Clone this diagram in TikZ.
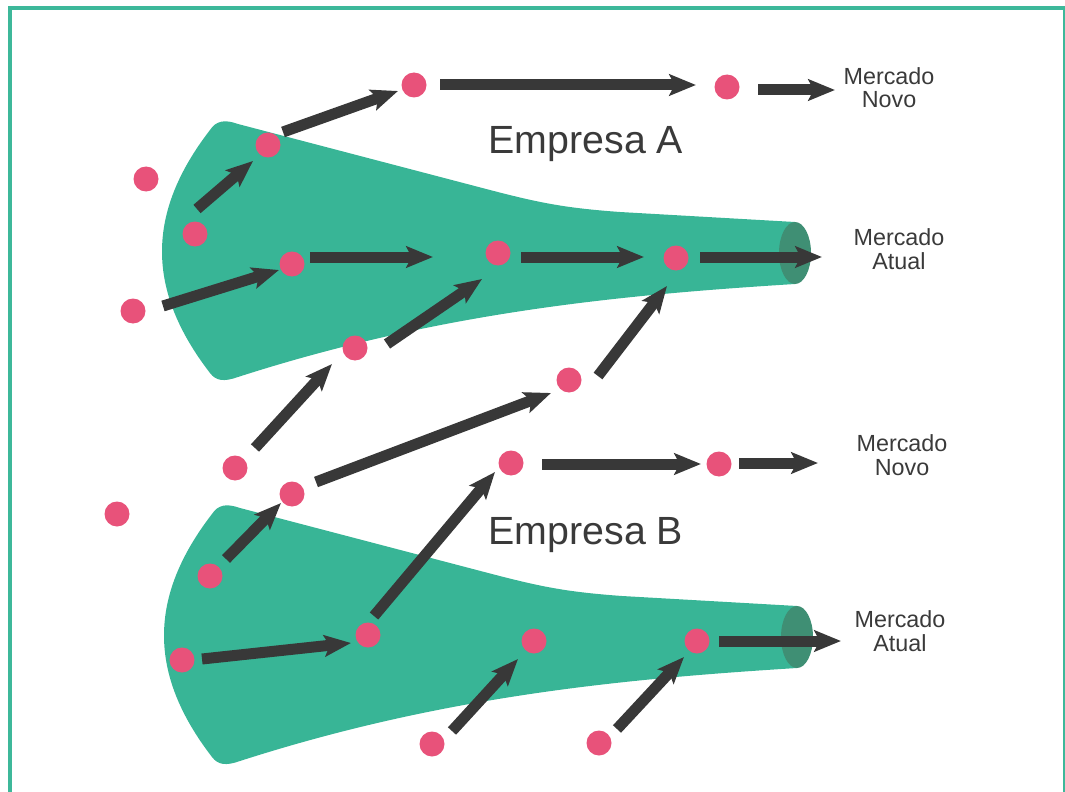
\documentclass[tikz,border=0pt]{standalone}
\usepackage{fontspec}
\setmainfont{Liberation Sans}
\usetikzlibrary{arrows.meta}

\definecolor{funnel}{RGB}{56,181,150}
\definecolor{funnelend}{RGB}{63,143,116}
\definecolor{dotpink}{RGB}{232,82,122}
\definecolor{ink}{RGB}{56,56,56}
\definecolor{textgray}{RGB}{58,58,58}
\definecolor{framecol}{RGB}{61,184,154}

\begin{document}
\begin{tikzpicture}[x=0.75pt,y=-0.75pt,
  dot/.style={circle,fill=dotpink,inner sep=0pt,minimum size=18.75pt},
  flow/.style={draw=ink,line width=8.25pt,-{Stealth[length=20pt,width=16pt,inset=4pt]}},
  market/.style={text=textgray,align=center,font=\fontsize{17.5}{17.5}\selectfont},
  company/.style={text=textgray,anchor=base,font=\fontsize{29.5}{34}\selectfont},
  funnelbody/.style={fill=funnel},
  mouth/.style={fill=funnelend},
  framebox/.style={draw=framecol,line width=3pt}]

\useasboundingbox (0,0) rectangle (1065,792);

% outer frame (its lower edge lies below the page)
\draw[framebox] (9.5,8) rectangle (1064.5,800);

% the two funnels, identical shape
\foreach \dx/\dy in {0/0,2/384}{
  \begin{scope}[shift={(\dx,\dy)}]
    \fill[funnelbody] (795,222) -- (795,284)
      .. controls (620,295) and (440,312) .. (238,377)
      .. controls (224,382) and (216,381) .. (210,373)
      .. controls (146,290) and (146,213) .. (210,130)
      .. controls (216,121) and (224,119) .. (238,124)
      -- (490,190) .. controls (540,203) and (565,208) .. (620,212) -- cycle;
    \fill[mouth] (795,253) ellipse [x radius=16, y radius=31];
  \end{scope}
}

% titles
\node[company] (empA) at (586,154) {Empresa A};
\node[company] (empB) at (586,544) {Empresa B};

% market labels
\node[market] (novoA)  at (889,87.5) {Mercado\\Novo};
\node[market] (atualA) at (899,249)  {Mercado\\Atual};
\node[market] (novoB)  at (902,455)  {Mercado\\Novo};
\node[market] (atualB) at (900,631)  {Mercado\\Atual};

% customers
\node[dot] (p1)  at (146,179) {};
\node[dot] (p2)  at (268,145) {};
\node[dot] (p3)  at (195,234) {};
\node[dot] (p4)  at (414,85)  {};
\node[dot] (p5)  at (727,87)  {};
\node[dot] (p6)  at (292,264) {};
\node[dot] (p7)  at (133,311) {};
\node[dot] (p8)  at (498,253) {};
\node[dot] (p9)  at (676,258) {};
\node[dot] (p10) at (355,348) {};
\node[dot] (p11) at (569,380) {};
\node[dot] (p12) at (235,468) {};
\node[dot] (p13) at (117,514) {};
\node[dot] (p14) at (292,494) {};
\node[dot] (p15) at (511,463) {};
\node[dot] (p16) at (719,464) {};
\node[dot] (p17) at (210,576) {};
\node[dot] (p18) at (182,660) {};
\node[dot] (p19) at (368,635) {};
\node[dot] (p20) at (534,641) {};
\node[dot] (p21) at (697,641) {};
\node[dot] (p22) at (432,744) {};
\node[dot] (p23) at (599,743) {};

% arrow end points
\coordinate (s1)  at (197,209); \coordinate (t1)  at (253,161);
\coordinate (s2)  at (283,132); \coordinate (t2)  at (398,91);
\coordinate (s3)  at (440,85);  \coordinate (t3)  at (696,85);
\coordinate (s4)  at (758,90);  \coordinate (t4)  at (835,90);
\coordinate (s5)  at (163,306); \coordinate (t5)  at (279,270);
\coordinate (s6)  at (310,257); \coordinate (t6)  at (433,257);
\coordinate (s7)  at (521,257); \coordinate (t7)  at (644,257);
\coordinate (s8)  at (700,257); \coordinate (t8)  at (822,257);
\coordinate (s9)  at (387,344); \coordinate (t9)  at (482,279);
\coordinate (s10) at (598,376); \coordinate (t10) at (667,286);
\coordinate (s11) at (255,448); \coordinate (t11) at (332,364);
\coordinate (s12) at (316,482); \coordinate (t12) at (551,393);
\coordinate (s13) at (226,559); \coordinate (t13) at (281,503);
\coordinate (s14) at (202,659); \coordinate (t14) at (351,643);
\coordinate (s15) at (374,616); \coordinate (t15) at (495,472);
\coordinate (s16) at (542,464); \coordinate (t16) at (701,464);
\coordinate (s17) at (739,463); \coordinate (t17) at (818,463);
\coordinate (s18) at (452,731); \coordinate (t18) at (518,659);
\coordinate (s19) at (617,729); \coordinate (t19) at (684,657);
\coordinate (s20) at (719,641); \coordinate (t20) at (841,641);

% movements
\foreach \i in {1,...,20}{
  \draw[flow] (s\i) -- (t\i);
}

\end{tikzpicture}
\end{document}
